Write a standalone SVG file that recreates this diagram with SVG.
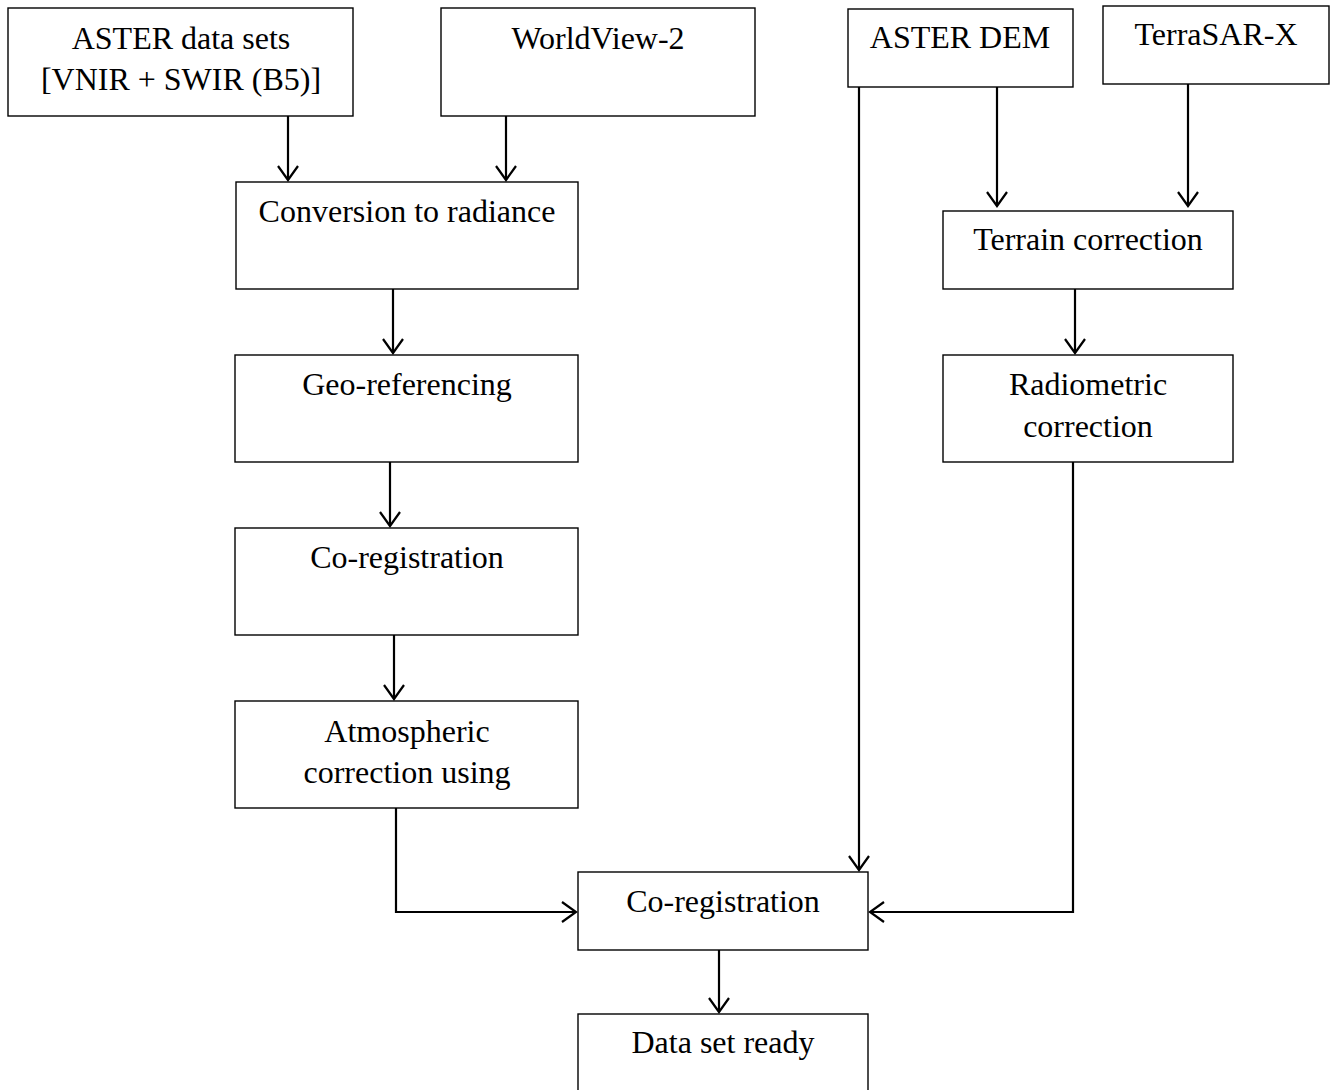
<svg xmlns="http://www.w3.org/2000/svg" width="1336" height="1090" viewBox="0 0 1336 1090">
<style>
.box{fill:#fff;stroke:#000;stroke-width:1.4}
.t{font-family:"Liberation Serif","Times New Roman",serif;font-size:32px;fill:#000;text-anchor:middle}
.c{fill:none;stroke:#000;stroke-width:2.2}
</style>
<defs>
<marker id="ah" markerUnits="userSpaceOnUse" markerWidth="24" markerHeight="24" viewBox="-20 -12 24 24" refX="0" refY="0" orient="auto">
<path d="M-14,-10 L0,0 L-14,10" fill="none" stroke="#000" stroke-width="2.2"/>
</marker>
</defs>
<rect width="1336" height="1090" fill="#fff"/>
<g id="connectors">
<path class="c" d="M288,116 V180" marker-end="url(#ah)"/>
<path class="c" d="M506,116 V180" marker-end="url(#ah)"/>
<path class="c" d="M393,289 V353" marker-end="url(#ah)"/>
<path class="c" d="M390,462 V526" marker-end="url(#ah)"/>
<path class="c" d="M394,632 V699" marker-end="url(#ah)"/>
<path class="c" d="M396,808 V912 H576" marker-end="url(#ah)"/>
<path class="c" d="M859,83 V870" marker-end="url(#ah)"/>
<path class="c" d="M997,87 V206" marker-end="url(#ah)"/>
<path class="c" d="M1188,84 V206" marker-end="url(#ah)"/>
<path class="c" d="M1075,289 V353" marker-end="url(#ah)"/>
<path class="c" d="M1073,462 V912 H870" marker-end="url(#ah)"/>
<path class="c" d="M719,950 V1012" marker-end="url(#ah)"/>
</g>
<g id="n-aster">
<rect class="box" x="8" y="8" width="345" height="108"/>
<text class="t" x="181" y="49">ASTER data sets</text>
<text class="t" x="181" y="90">[VNIR + SWIR (B5)]</text>
</g>
<g id="n-wv2">
<rect class="box" x="441" y="8" width="314" height="108"/>
<text class="t" x="598" y="49">WorldView-2</text>
</g>
<g id="n-dem">
<rect class="box" x="848" y="9" width="225" height="78"/>
<text class="t" x="960" y="48">ASTER DEM</text>
</g>
<g id="n-tsx">
<rect class="box" x="1103" y="6" width="226" height="78"/>
<text class="t" x="1216" y="45">TerraSAR-X</text>
</g>
<g id="n-conv">
<rect class="box" x="236" y="182" width="342" height="107"/>
<text class="t" x="407" y="222">Conversion to radiance</text>
</g>
<g id="n-geo">
<rect class="box" x="235" y="355" width="343" height="107"/>
<text class="t" x="407" y="395">Geo-referencing</text>
</g>
<g id="n-coreg1">
<rect class="box" x="235" y="528" width="343" height="107"/>
<text class="t" x="407" y="568">Co-registration</text>
</g>
<g id="n-atm">
<rect class="box" x="235" y="701" width="343" height="107"/>
<text class="t" x="407" y="742">Atmospheric</text>
<text class="t" x="407" y="783">correction using</text>
</g>
<g id="n-terrain">
<rect class="box" x="943" y="211" width="290" height="78"/>
<text class="t" x="1088" y="250">Terrain correction</text>
</g>
<g id="n-radio">
<rect class="box" x="943" y="355" width="290" height="107"/>
<text class="t" x="1088" y="395">Radiometric</text>
<text class="t" x="1088" y="437">correction</text>
</g>
<g id="n-coreg2">
<rect class="box" x="578" y="872" width="290" height="78"/>
<text class="t" x="723" y="912">Co-registration</text>
</g>
<g id="n-ready">
<rect class="box" x="578" y="1014" width="290" height="90"/>
<text class="t" x="723" y="1053">Data set ready</text>
</g>
</svg>
